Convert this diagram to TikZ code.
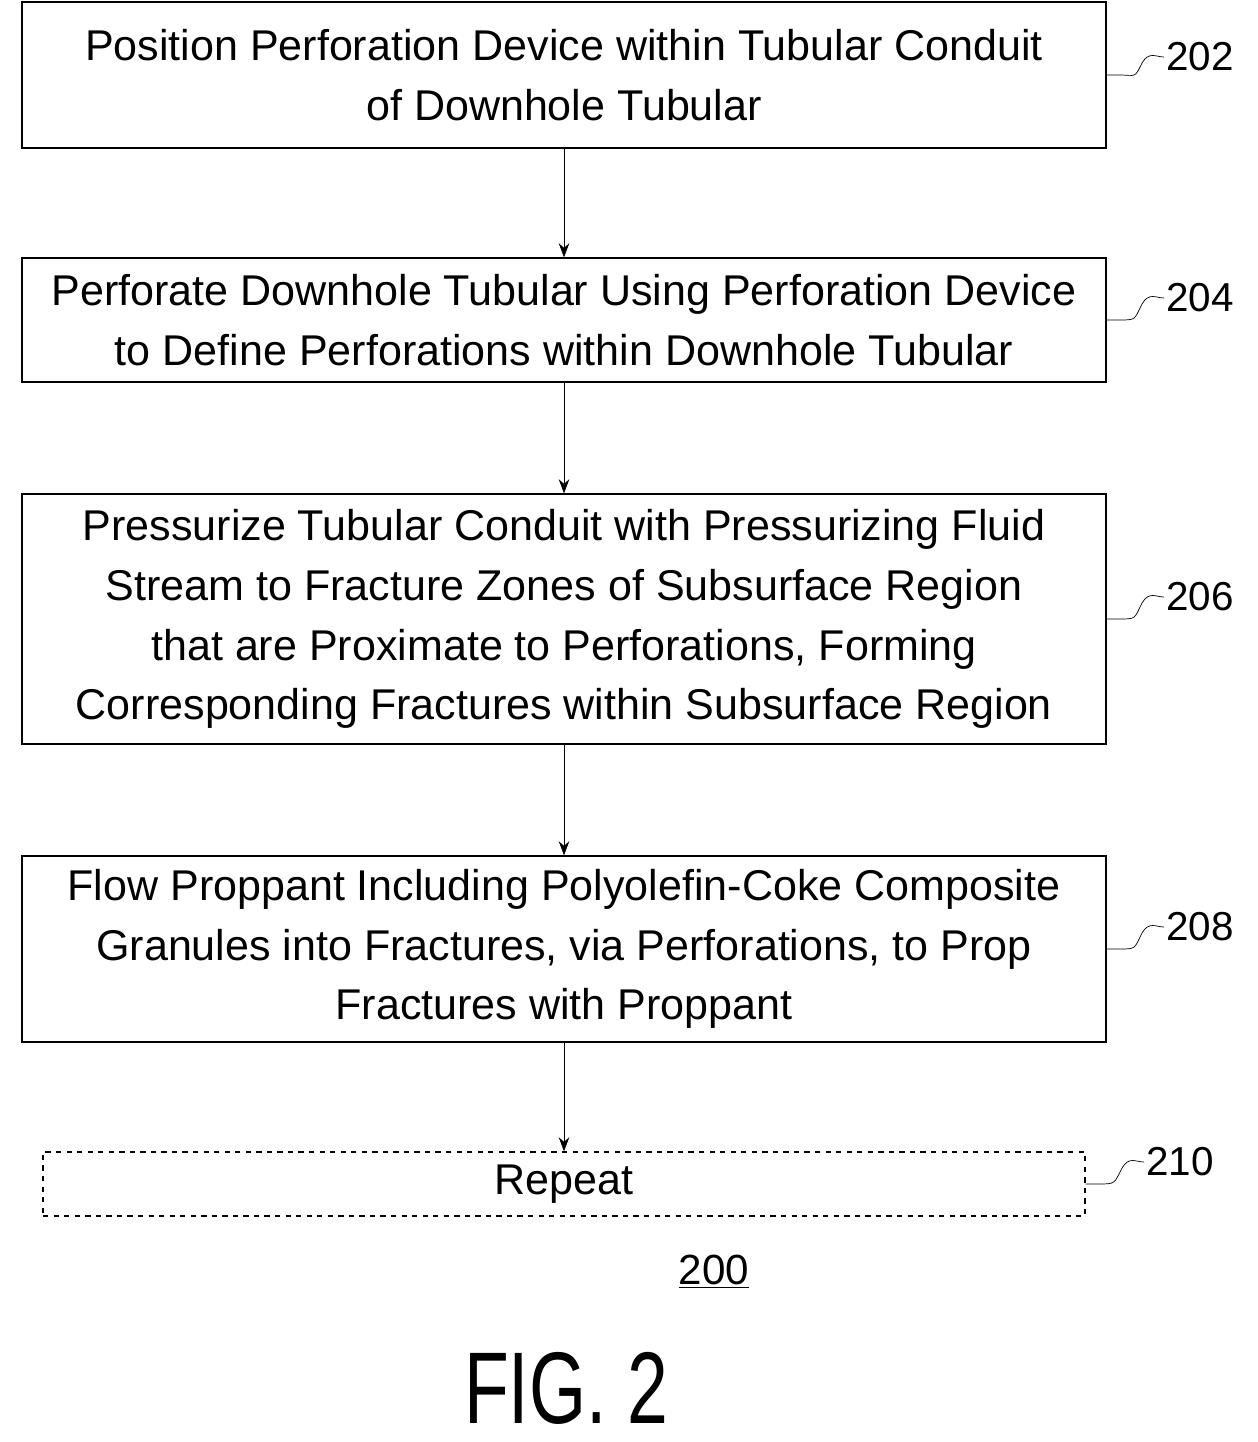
\documentclass[tikz,border=0pt]{standalone}
\usepackage{fontspec}
\setmainfont{Liberation Sans}
\usetikzlibrary{positioning,calc,arrows.meta}
\tikzset{
  stepbox/.style={draw,thick,minimum width=21.68cm,align=center,
    font=\fontsize{24.5}{34}\selectfont,inner sep=0pt},
  flow/.style={-{Stealth[length=8pt,width=6pt]},thin},
  reflabel/.style={font=\fontsize{23}{25}\selectfont,anchor=west,inner sep=1pt},
}
\newcommand*{\squig}[2]{% box anchor, label node
  \draw[thin] (#1) -- ++(12,0) .. controls ++(18,0) and ($(#2.west)+(-30,22)$)
    .. ($(#2.west)+(-22,6)$) .. controls ($(#2.west)+(-15,-6)$) and ($(#2.west)+(-8,0)$) .. (#2.west);}
\begin{document}
\begin{tikzpicture}[x=0.02cm,y=-0.02cm]
\useasboundingbox (0,0) rectangle (1257,1442);
% Step boxes
\node[stepbox,minimum height=2.92cm] (s202) at (564,75)
  {Position Perforation Device within Tubular Conduit\\of Downhole Tubular};
\node[stepbox,minimum height=2.48cm] (s204) at (564,320)
  {Perforate Downhole Tubular Using Perforation Device\\to Define Perforations within Downhole Tubular};
\node[stepbox,minimum height=5cm] (s206) at (564,619)
  {Pressurize Tubular Conduit with Pressurizing Fluid\\Stream to Fracture Zones of Subsurface Region\\that are Proximate to Perforations, Forming\\Corresponding Fractures within Subsurface Region};
\node[stepbox,minimum height=3.72cm] (s208) at (564,949)
  {Flow Proppant Including Polyolefin-Coke Composite\\Granules into Fractures, via Perforations, to Prop\\Fractures with Proppant};
\node[stepbox,dashed,minimum width=20.84cm,minimum height=1.28cm] (s210) at (564,1184)
  {Repeat};
% Arrows
\draw[flow] (s202) -- (s204);
\draw[flow] (s204) -- (s206);
\draw[flow] (s206) -- (s208);
\draw[flow] (s208) -- (s210);
% Reference numerals
\node[reflabel] (n202) at (1164,57) {202};
\node[reflabel] (n204) at (1164,298) {204};
\node[reflabel] (n206) at (1164,597) {206};
\node[reflabel] (n208) at (1164,927) {208};
\node[reflabel] (n210) at (1144,1162) {210};
\squig{s202.east}{n202}
\squig{s204.east}{n204}
\squig{s206.east}{n206}
\squig{s208.east}{n208}
\squig{s210.east}{n210}
% Figure labels
\node[font=\fontsize{24}{25}\selectfont] (n200) at (714,1272) {\underline{200}};
\node[font=\fontsize{58}{60}\selectfont,xscale=0.72] (fig) at (566,1388) {FIG. 2};
\end{tikzpicture}
\end{document}
